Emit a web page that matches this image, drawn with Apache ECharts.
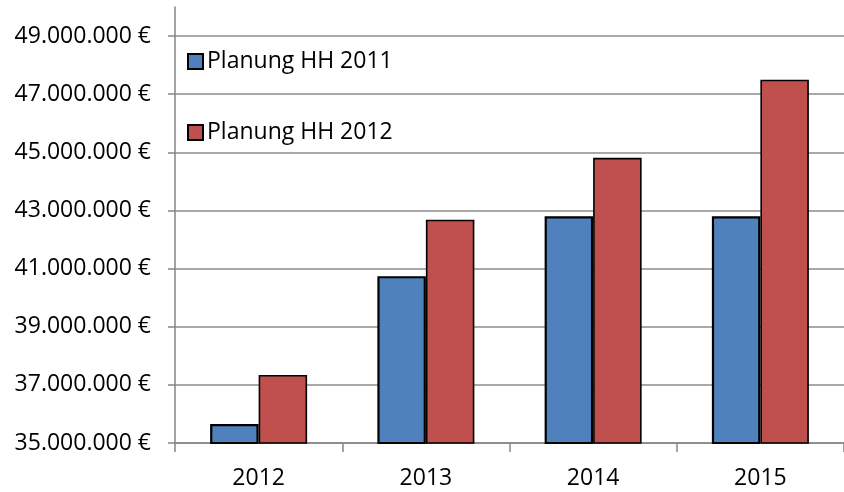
<!DOCTYPE html>
<html>
<head>
<meta charset="utf-8">
<style>
  html, body { margin: 0; padding: 0; background: #fff; }
  #chart { width: 844px; height: 492px; }
</style>
<script src="https://cdn.jsdelivr.net/npm/echarts@6/dist/echarts.min.js"></script>
</head>
<body>
<div id="chart"></div>
<script>
// categories and values
var years = ['2012', '2013', '2014', '2015'];
var plan2011 = [35650000, 40740000, 42800000, 42800000];
var plan2012 = [37340000, 42680000, 44810000, 47500000];
var seriesNames = ['Planung HH 2011', 'Planung HH 2012'];

var FONT = 'Open Sans';

function euro(v) {
  // 49000000 -> "49.000.000 €"
  return String(Math.round(v)).replace(/\B(?=(\d{3})+(?!\d))/g, '.') + ' €';
}

var chart = echarts.init(document.getElementById('chart'), null, { renderer: 'canvas' });

var option = {
  animation: false,
  backgroundColor: '#fff',
  textStyle: { fontFamily: FONT },
  grid: {
    left: 175,
    right: -6,
    top: 7,
    bottom: 49,
    containLabel: false
  },
  legend: {
    orient: 'vertical',
    left: 182,
    top: 45,
    itemWidth: 15,
    itemHeight: 15,
    itemGap: 48,
    icon: 'rect',
    textStyle: { fontFamily: FONT, fontSize: 23, color: '#000', padding: [0, 0, 0, -1] },
    data: seriesNames
  },
  xAxis: {
    type: 'category',
    data: years,
    boundaryGap: true,
    axisLine: { lineStyle: { color: '#868686', width: 1.5 } },
    axisTick: { show: true, length: 9, lineStyle: { color: '#868686', width: 1.5 } },
    axisLabel: { fontFamily: FONT, fontSize: 23, color: '#000', margin: 24 }
  },
  yAxis: {
    type: 'value',
    min: 35000000,
    max: 50000000,
    interval: 2000000,
    axisLine: { show: true, lineStyle: { color: '#868686', width: 1.5 } },
    axisTick: { show: true, length: 7, lineStyle: { color: '#868686', width: 1.5 } },
    axisLabel: {
      fontFamily: FONT,
      fontSize: 23,
      color: '#000',
      margin: 24,
      showMaxLabel: false,
      formatter: euro
    },
    splitLine: {
      show: true,
      showMaxLine: false,
      lineStyle: { color: '#8c8c8c', width: 1.5 }
    }
  },
  series: [
    {
      name: seriesNames[0],
      type: 'bar',
      data: plan2011,
      barWidth: 48.5,
      barGap: '0%',
      itemStyle: { color: '#4F81BD', borderColor: '#000', borderWidth: 2.2 }
    },
    {
      name: seriesNames[1],
      type: 'bar',
      data: plan2012,
      barWidth: 48.5,
      barGap: '0%',
      itemStyle: { color: '#C0504D', borderColor: '#000', borderWidth: 1.6 }
    }
  ]
};

chart.setOption(option);
</script>
</body>
</html>
